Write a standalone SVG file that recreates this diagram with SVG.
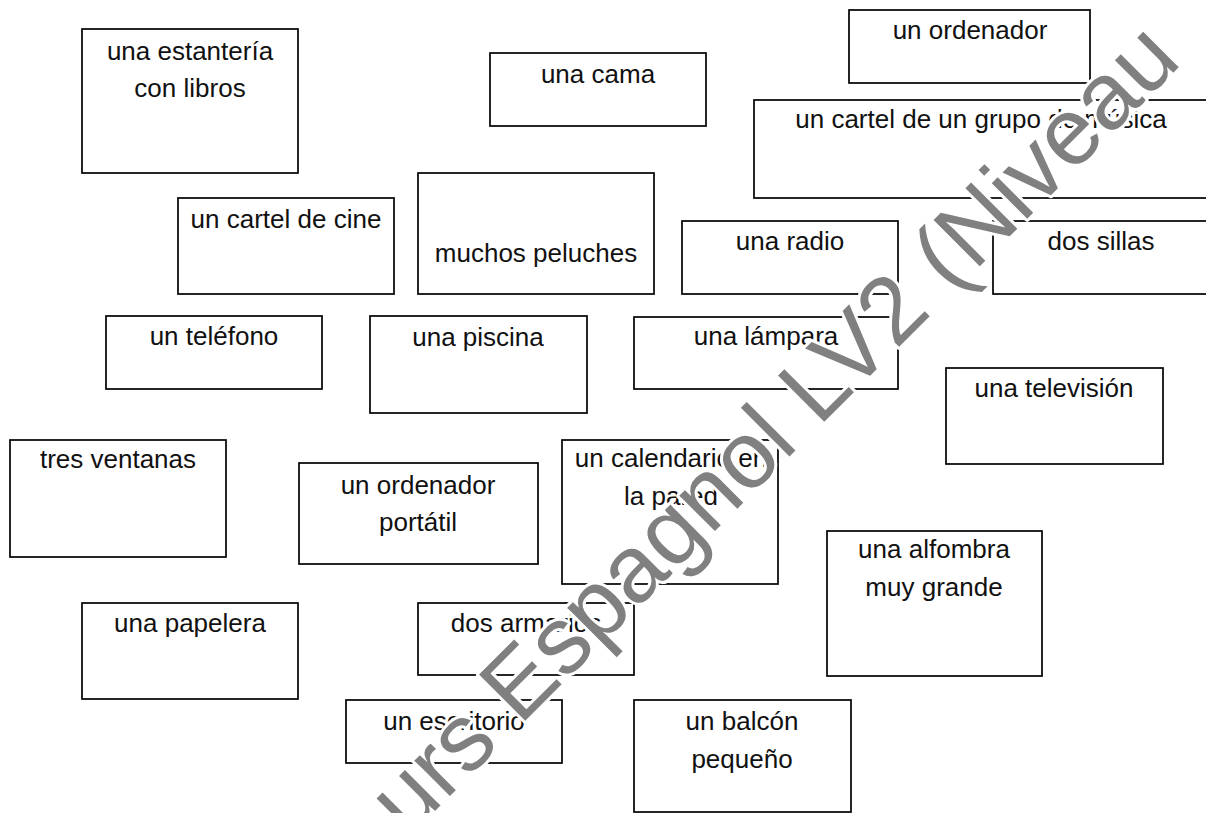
<svg xmlns="http://www.w3.org/2000/svg" width="1206" height="813" viewBox="0 0 1206 813">
<style>
.box{fill:#fff;stroke:#000;stroke-width:1.7}
.lbl{font-family:"Liberation Sans",Arial,sans-serif;font-size:26px;fill:#111;text-anchor:middle}
.wm{font-family:"Liberation Sans",Arial,sans-serif;font-size:95px;fill:#808080;stroke:#fff;stroke-width:6;paint-order:stroke;stroke-linejoin:round}
</style>
<rect width="1206" height="813" fill="#fff"/>
<g id="connectors"/>
<g id="estanteria"><rect class="box" x="82" y="29" width="216" height="144"/><text class="lbl" x="190" y="60">una estantería</text><text class="lbl" x="190" y="97">con libros</text></g>
<g id="cama"><rect class="box" x="490" y="53" width="216" height="73"/><text class="lbl" x="598" y="83">una cama</text></g>
<g id="ordenador"><rect class="box" x="849" y="10" width="241" height="73"/><text class="lbl" x="970" y="39">un ordenador</text></g>
<g id="cartel-grupo"><rect class="box" x="754" y="100" width="456" height="98"/><text class="lbl" x="981" y="128">un cartel de un grupo de música</text></g>
<g id="cartel-cine"><rect class="box" x="178" y="198" width="216" height="96"/><text class="lbl" x="286" y="228">un cartel de cine</text></g>
<g id="peluches"><rect class="box" x="418" y="173" width="236" height="121"/><text class="lbl" x="536" y="262">muchos peluches</text></g>
<g id="radio"><rect class="box" x="682" y="221" width="216" height="73"/><text class="lbl" x="790" y="250">una radio</text></g>
<g id="sillas"><rect class="box" x="993" y="221" width="218" height="73"/><text class="lbl" x="1101" y="250">dos sillas</text></g>
<g id="telefono"><rect class="box" x="106" y="316" width="216" height="73"/><text class="lbl" x="214" y="345">un teléfono</text></g>
<g id="piscina"><rect class="box" x="370" y="316" width="217" height="97"/><text class="lbl" x="478" y="346">una piscina</text></g>
<g id="lampara"><rect class="box" x="634" y="317" width="264" height="72"/><text class="lbl" x="766" y="345">una lámpara</text></g>
<g id="television"><rect class="box" x="946" y="368" width="217" height="96"/><text class="lbl" x="1054" y="397">una televisión</text></g>
<g id="ventanas"><rect class="box" x="10" y="440" width="216" height="117"/><text class="lbl" x="118" y="468">tres ventanas</text></g>
<g id="portatil"><rect class="box" x="299" y="463" width="239" height="101"/><text class="lbl" x="418" y="494">un ordenador</text><text class="lbl" x="418" y="531">portátil</text></g>
<g id="calendario"><rect class="box" x="562" y="440" width="216" height="144"/><text class="lbl" x="671" y="467">un calendario en</text><text class="lbl" x="671" y="505">la pared</text></g>
<g id="alfombra"><rect class="box" x="827" y="531" width="215" height="145"/><text class="lbl" x="934" y="558">una alfombra</text><text class="lbl" x="934" y="596">muy grande</text></g>
<g id="papelera"><rect class="box" x="82" y="603" width="216" height="96"/><text class="lbl" x="190" y="632">una papelera</text></g>
<g id="armarios"><rect class="box" x="418" y="603" width="216" height="72"/><text class="lbl" x="526" y="632">dos armarios</text></g>
<g id="escritorio"><rect class="box" x="346" y="700" width="216" height="63"/><text class="lbl" x="454" y="730">un escritorio</text></g>
<g id="balcon"><rect class="box" x="634" y="700" width="217" height="112"/><text class="lbl" x="742" y="730">un balcón</text><text class="lbl" x="742" y="768">pequeño</text></g>
<g id="watermark"><text class="wm" transform="translate(322,924) rotate(-45)">Cours Espagnol LV2 (Niveau</text></g>
</svg>
